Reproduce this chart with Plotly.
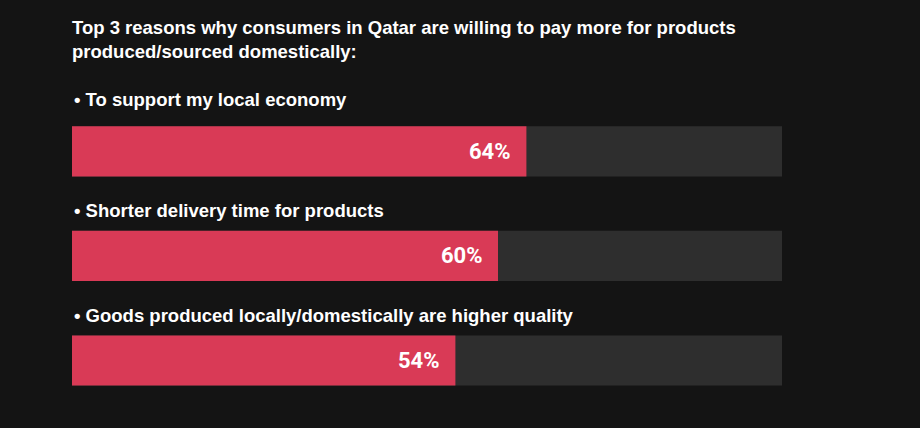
import plotly.graph_objects as go

# data
reasons = [
    "• To support my local economy",
    "• Shorter delivery time for products",
    "• Goods produced locally/domestically are higher quality",
]
shares = [64, 60, 54]
full = [100, 100, 100]
labels = [f"{v}%" for v in shares]

title_text = ("Top 3 reasons why consumers in Qatar are willing to pay more for products"
              "<br>produced/sourced domestically:")

bg = "#141414"
track = "#2e2e2e"
red = "#d93a56"
label_font = "Liberation Sans, Arial"

fig = go.Figure()
# grey track behind
fig.add_trace(go.Bar(x=full, y=reasons, orientation="h", marker_color=track,
                     marker_line_width=0, hoverinfo="skip", showlegend=False))
fig.add_trace(go.Bar(x=shares, y=reasons, orientation="h", marker_color=red,
                     marker_line_width=0, showlegend=False))

# category labels above each bar (first one sits a little higher in the original)
for r, shift in zip(reasons, [52, 45, 45]):
    fig.add_annotation(x=0, xref="paper", y=r, yref="y", text=f"<b>{r}</b>",
                       showarrow=False, xanchor="left", yanchor="middle", yshift=shift,
                       font=dict(family=label_font, size=18.5, color="white"))

# value labels inside the red bars
for r, v, t in zip(reasons, shares, labels):
    fig.add_annotation(x=v, y=r, text=f"<b>{t}</b>", showarrow=False,
                       xanchor="right", yanchor="middle", xshift=-13,
                       font=dict(family="Roboto", size=22, color="white"))

fig.update_layout(
    width=920, height=428,
    paper_bgcolor=bg, plot_bgcolor=bg,
    barmode="overlay", bargap=0.52,
    margin=dict(l=72, r=138, t=99, b=10),
    title=dict(text=f"<b>{title_text}</b>", x=72/920, xref="container", xanchor="left",
               y=0.92, yref="container", yanchor="top",
               font=dict(family=label_font, size=18.5, color="white")),
    xaxis=dict(range=[0, 100], visible=False, fixedrange=True),
    yaxis=dict(autorange="reversed", visible=False, fixedrange=True),
)

fig.write_html("out.html", config={"displayModeBar": False},
               post_script="document.body.style.margin='0';"
                           "document.body.style.background='#141414';")
